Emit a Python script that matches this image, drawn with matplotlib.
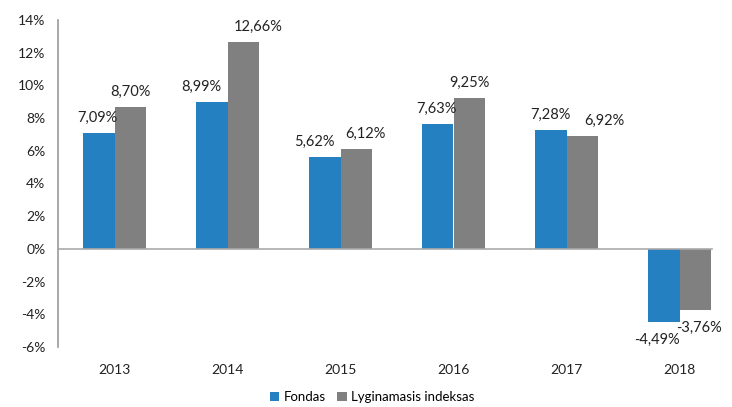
import matplotlib
matplotlib.use('Agg')
import matplotlib.pyplot as plt
import numpy as np

plt.rcParams['font.family'] = ['Lato', 'DejaVu Sans']

years = ['2013', '2014', '2015', '2016', '2017', '2018']
fondas = [7.09, 8.99, 5.62, 7.63, 7.28, -4.49]
indeksas = [8.70, 12.66, 6.12, 9.25, 6.92, -3.76]
series_names = ['Fondas', 'Lyginamasis indeksas']

# manual label nudges (pixels), like the hand-moved labels in the original
nudge_f = [-1, -10, -10, -1, 0, -7]
nudge_i = [0, 15, 9, 0, 22, 4]

BLUE = '#2480c0'
GRAY = '#808080'

fig = plt.figure(figsize=(7.32, 4.07), dpi=100)
ax = fig.add_axes([58/732, 60/407, 678/732, 327/407])

x = np.arange(len(years))
w = 0.283
b1 = ax.bar(x - w/2, fondas, w, color=BLUE, label=series_names[0])
b2 = ax.bar(x + w/2, indeksas, w, color=GRAY, label=series_names[1])

def fmt(v):
    return f'{v:.2f}%'.replace('.', ',')

for bars, vals, nudges in [(b1, fondas, nudge_f), (b2, indeksas, nudge_i)]:
    for b, v, dx in zip(bars, vals, nudges):
        cx = b.get_x() + b.get_width()/2
        if v >= 0:
            ax.annotate(fmt(v), (cx, v), xytext=(dx, 8), textcoords='offset pixels',
                        ha='center', va='bottom', fontsize=10.5, color='#222222')
        else:
            ax.annotate(fmt(v), (cx, v), xytext=(dx, -11), textcoords='offset pixels',
                        ha='center', va='top', fontsize=10.5, color='#222222')

ax.set_ylim(-6, 14)
ax.set_xlim(-0.5, 5.5)
ax.set_yticks(np.arange(-6, 15, 2))
ax.set_yticklabels([f'{t}%' for t in range(-6, 15, 2)])
ax.set_xticks(x)
ax.set_xticklabels(years)
ax.tick_params(axis='both', length=0, labelsize=10, colors='#222222')
ax.tick_params(axis='x', pad=12)
ax.tick_params(axis='y', pad=9)

for s in ['top', 'right', 'bottom']:
    ax.spines[s].set_visible(False)
ax.spines['left'].set_color('#999999')
ax.spines['left'].set_linewidth(1.2)
ax.axhline(0, xmin=0, xmax=654/678, color='#aaaaaa', lw=1.2)

leg = fig.legend(handles=[b1, b2], labels=series_names, loc='center',
                 bbox_to_anchor=(372/732, 1 - 397/407), ncol=2, frameon=False,
                 fontsize=9.5, handlelength=0.7, handleheight=0.7,
                 handletextpad=0.3, columnspacing=0.9)

fig.savefig('out.png', dpi=100)
